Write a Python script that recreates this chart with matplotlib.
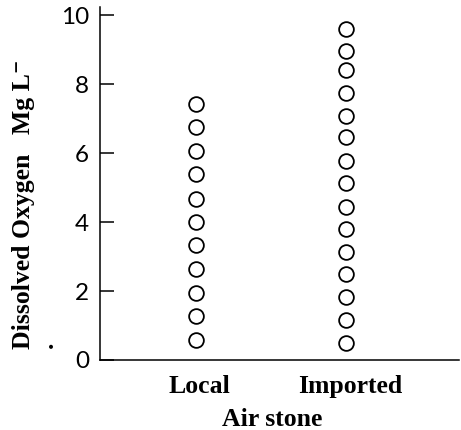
import matplotlib
matplotlib.use("Agg")
import matplotlib.pyplot as plt

# Dados
categorias = ["Local", "Imported"]
local = [7.44, 6.77, 6.07, 5.40, 4.68, 4.01, 3.34, 2.64, 1.95, 1.28, 0.58]
imported = [9.60, 8.98, 8.42, 7.76, 7.09, 6.47, 5.77, 5.13, 4.45, 3.80,
            3.14, 2.50, 1.84, 1.16, 0.50]
yticks = [0, 2, 4, 6, 8, 10]

serif = ["Liberation Serif", "DejaVu Serif"]

fig = plt.figure(figsize=(4.61, 4.30), dpi=100)
ax = fig.add_axes([0.217, 0.163, 0.779, 0.821])

ax.plot([0] * len(local), local, "o", ms=10.6, mfc="white", mec="black", mew=1.3,
        clip_on=False)
ax.plot([1] * len(imported), imported, "o", ms=10.6, mfc="white", mec="black", mew=1.3,
        clip_on=False)

ax.set_xlim(-0.64, 1.753)
ax.set_ylim(0, 10.25)

ax.spines["top"].set_visible(False)
ax.spines["right"].set_visible(False)
for s in ["left", "bottom"]:
    ax.spines[s].set_linewidth(1.1)

ax.set_yticks(yticks)
ax.tick_params(axis="y", direction="in", length=10, width=1.1, pad=8,
               labelsize=17.5)
for t in ax.get_yticklabels():
    t.set_fontfamily("Lato")

ax.set_xticks([0.02, 1.03])
ax.set_xticklabels(categorias, fontfamily=serif, fontweight="bold", fontsize=18.5)
ax.tick_params(axis="x", length=0, pad=11)

ax.set_xlabel("Air stone", fontfamily=serif, fontweight="bold", fontsize=18.5,
              labelpad=-2)
ax.xaxis.set_label_coords(0.48, -0.135)

ax.set_ylabel("Dissolved Oxygen   Mg L\u207b", fontfamily=serif,
              fontweight="bold", fontsize=18.5)
ax.yaxis.set_label_coords(-0.18, 0.44)

fig.text(46 / 461, 1 - 345 / 430, ".", fontfamily=serif, fontweight="bold",
         fontsize=18.5, rotation=90, ha="center", va="center")

plt.savefig("out.png", dpi=100)
